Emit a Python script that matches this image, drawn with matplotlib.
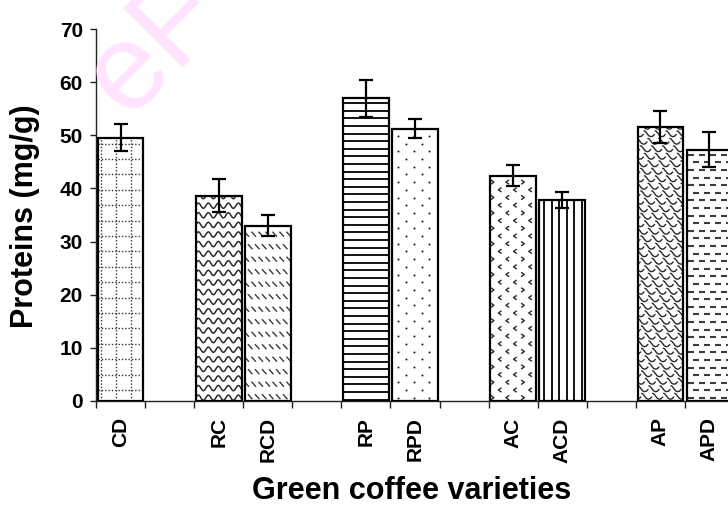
import numpy as np
import matplotlib
matplotlib.use("Agg")
import matplotlib.pyplot as plt
from matplotlib.collections import LineCollection

plt.rcParams["font.family"] = ["Liberation Sans", "DejaVu Sans"]

# Varieties, grouped; an empty slot separates neighbouring groups
groups = [["CD"], ["RC", "RCD"], ["RP", "RPD"], ["AC", "ACD"], ["AP", "APD"]]
proteins = [49.6, 38.6, 33.0, 57.0, 51.3, 42.4, 37.8, 51.6, 47.3]
proteins_sd = [2.5, 3.1, 2.0, 3.5, 1.8, 2.0, 1.5, 3.0, 3.3]
fills = ["dotgrid", "wave", "dashdiag", "hlines", "dots",
         "chevrons", "vlines", "shingle", "hdash"]
y_ticks = [0, 10, 20, 30, 40, 50, 60, 70]

labels, slots = [], []
pos = 0
for g in groups:
    for name in g:
        labels.append(name)
        slots.append(pos)
        pos += 1
    pos += 1
n_slots = pos - 1

W, H = 728, 514
fig = plt.figure(figsize=(W / 100, H / 100), dpi=100)
ax_l, ax_b, ax_w, ax_h = 96, 113.3, 638, 371.4
ax = fig.add_axes([ax_l / W, ax_b / H, ax_w / W, ax_h / H])
ax.set_xlim(-0.5, n_slots - 0.5)
ax.set_ylim(y_ticks[0], y_ticks[-1])

# faint watermark behind the plot
fig.text(127 / W, (H - 118) / H, "eF", fontsize=88, color="#ffe3ff",
         rotation=45, rotation_mode="anchor", ha="left", va="baseline",
         family="Liberation Sans", zorder=0)
ax.patch.set_alpha(0)

# pixel scale of the data axes
sx = ax_w / (ax.get_xlim()[1] - ax.get_xlim()[0])
sy = ax_h / (ax.get_ylim()[1] - ax.get_ylim()[0])

bar_w = 0.93
bars = ax.bar(slots, proteins, width=bar_w, color="white",
              edgecolor="none", zorder=2)


def frange(a, b, step):
    return np.arange(a, b + 1e-9, step)


def add_lines(segs, bar, color="black", lw=1.0, ls="solid"):
    lc = LineCollection(segs, colors=color, linewidths=lw, linestyles=ls,
                        zorder=3)
    ax.add_collection(lc)
    lc.set_clip_path(bar)


def fill_bar(bar, kind):
    x0 = bar.get_x()
    x1 = x0 + bar.get_width()
    top = bar.get_height()
    # work in pixels relative to the bar's lower-left corner
    wpx = (x1 - x0) * sx
    hpx = top * sy
    X = lambda p: x0 + np.asarray(p) / sx
    Y = lambda p: np.asarray(p) / sy
    segs = []
    if kind == "dotgrid":
        for p in frange(3.3, wpx, 15.2):
            segs.append([(X(p), 0), (X(p), top)])
        for q in np.arange(hpx - 6, 0, -15.4):
            segs.append([(x0, Y(q)), (x1, Y(q))])
        add_lines(segs, bar, color="#333333", lw=1.0, ls=(0, (1.0, 1.4)))
    elif kind == "wave":
        t = np.linspace(-2, wpx + 2, 200)
        for q in frange(3, hpx + 5, 9.6):
            yy = q + 2.6 * np.sin(2 * np.pi * t / 10.0)
            segs.append(np.column_stack([X(t), Y(yy)]))
        add_lines(segs, bar, color="#2a2a2a", lw=1.1)
    elif kind == "dashdiag":
        for r, q in enumerate(frange(4, hpx + 6, 12.5)):
            off = 0 if r % 2 == 0 else 3.5
            for p in frange(-4 + off, wpx + 4, 7.0):
                segs.append([(X(p), Y(q + 2.5)), (X(p + 4.5), Y(q - 2.5))])
        add_lines(segs, bar, color="#3a3a3a", lw=1.0)
    elif kind == "hlines":
        for q in np.arange(hpx - 5, 0, -7.6):
            segs.append([(x0, Y(q)), (x1, Y(q))])
        add_lines(segs, bar, color="black", lw=1.3)
    elif kind == "dots":
        xs, ys = [], []
        for r, q in enumerate(frange(3, hpx, 7.7)):
            off = 6 if r % 2 == 0 else 13.8
            for p in frange(off, wpx - 2, 15.6):
                xs.append(X(p))
                ys.append(Y(q))
        sc = ax.scatter(xs, ys, s=2.2, color="#222222", linewidths=0,
                        zorder=3)
        sc.set_clip_path(bar)
    elif kind == "chevrons":
        for r, q in enumerate(frange(3, hpx + 4, 7.7)):
            for c, p in enumerate(frange(2, wpx + 4, 7.6)):
                if (r + c) % 2:
                    continue
                d = 1 if c % 4 == 0 else -1
                segs.append([(X(p - 1.6 * d), Y(q + 2.2)), (X(p + 1.6 * d), Y(q)),
                             (X(p - 1.6 * d), Y(q - 2.2))])
        add_lines(segs, bar, color="#2a2a2a", lw=1.0)
    elif kind == "vlines":
        for p in frange(5, wpx - 1, 7.5):
            segs.append([(X(p), 0), (X(p), top)])
        add_lines(segs, bar, color="black", lw=1.3)
    elif kind == "shingle":
        # rows of curved scales, each row shifted to run diagonally
        tw, th = 11.0, 7.5
        shape = np.array([(0.0, 7.5), (1.5, 7.0), (3.5, 4.5), (5.0, 2.5),
                          (7.0, 1.5), (9.0, 2.0), (10.0, 3.2), (11.0, 4.0)])
        for r, q in enumerate(frange(-2 * th, hpx + th, th)):
            off = -(r * 3.7) % tw
            for p in frange(-tw + off, wpx + tw, tw):
                segs.append(np.column_stack([X(p + shape[:, 0]),
                                             Y(q + shape[:, 1])]))
        add_lines(segs, bar, color="#2a2a2a", lw=1.0)
    elif kind == "hdash":
        for r, q in enumerate(np.arange(hpx - 5, 0, -7.6)):
            off = 1 if r % 2 == 0 else 6
            for p in frange(off, wpx, 11.0):
                segs.append([(X(p), Y(q)), (X(p + 6), Y(q))])
        add_lines(segs, bar, color="#3c3c3c", lw=1.5)


for bar, kind in zip(bars, fills):
    fill_bar(bar, kind)

# bar outlines on top of the textures
ax.bar(slots, proteins, width=bar_w, fill=False, edgecolor="black",
       linewidth=1.6, zorder=4)

ax.errorbar(slots, proteins, yerr=proteins_sd, fmt="none", ecolor="black",
            elinewidth=1.6, capsize=5, capthick=1.6, zorder=5)

# axes styling
for side in ("top", "right"):
    ax.spines[side].set_visible(False)
for side in ("left", "bottom"):
    ax.spines[side].set_color("#222222")
    ax.spines[side].set_linewidth(1.0)

ax.set_yticks(y_ticks)
ax.set_yticklabels([str(v) for v in y_ticks], fontsize=15, fontweight="bold")
ax.tick_params(axis="y", direction="out", length=4.5, width=1.0,
               color="#222222", pad=5)

ax.set_xticks(np.arange(-0.5, n_slots, 1.0))
ax.set_xticklabels([])
ax.tick_params(axis="x", which="major", direction="out", length=5,
               width=1.0, color="#222222")
ax.set_xticks(slots, minor=True)
ax.set_xticklabels(labels, minor=True, rotation=90, fontsize=15,
                   fontweight="bold", va="top", ha="center")
ax.tick_params(axis="x", which="minor", length=0, pad=12)

fig.text(25 / W, (H - 216) / H, "Proteins (mg/g)", rotation=90,
         ha="center", va="center", fontsize=22, fontweight="bold")
fig.text(412 / W, (H - 491) / H, "Green coffee varieties",
         ha="center", va="center", fontsize=22, fontweight="bold")

fig.savefig("out.png", dpi=100)
